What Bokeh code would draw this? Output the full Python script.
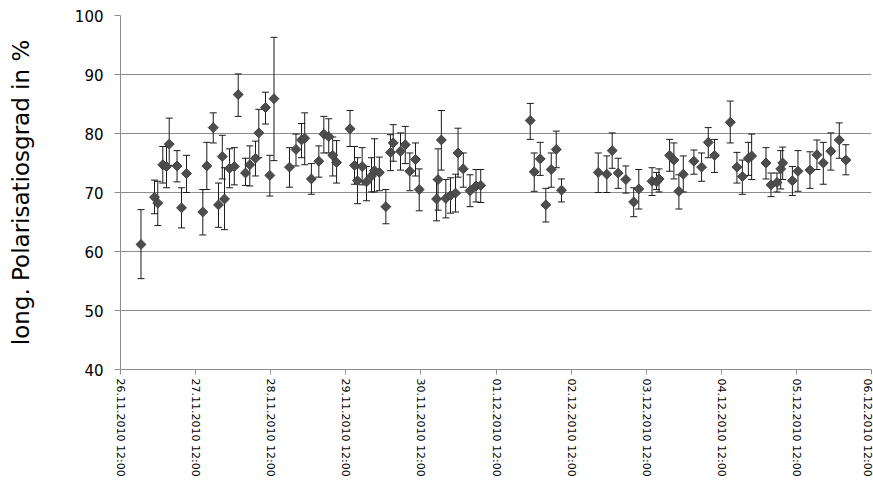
import numpy as np
import pandas as pd
from bokeh.plotting import figure
from bokeh.models import (ColumnDataSource, Whisker, TeeHead, Range1d, FixedTicker,
                          DatetimeTickFormatter)
from bokeh.embed import file_html
from bokeh.resources import INLINE

# measurement times
times = [
    "2010-11-26 18:33", "2010-11-26 22:52", "2010-11-26 23:55", "2010-11-27 01:31", "2010-11-27 02:42",
    "2010-11-27 03:34", "2010-11-27 06:04", "2010-11-27 07:30", "2010-11-27 09:06", "2010-11-27 14:18",
    "2010-11-27 15:35", "2010-11-27 17:38", "2010-11-27 19:19", "2010-11-27 20:32", "2010-11-27 21:14",
    "2010-11-27 22:50", "2010-11-28 00:22", "2010-11-28 01:37", "2010-11-28 03:57", "2010-11-28 05:19",
    "2010-11-28 07:08", "2010-11-28 08:12", "2010-11-28 10:20", "2010-11-28 11:43", "2010-11-28 13:03",
    "2010-11-28 18:00", "2010-11-28 20:05", "2010-11-28 21:51", "2010-11-28 22:52", "2010-11-29 01:00",
    "2010-11-29 03:23", "2010-11-29 04:59", "2010-11-29 06:33", "2010-11-29 07:49", "2010-11-29 09:03",
    "2010-11-29 13:21", "2010-11-29 14:47", "2010-11-29 15:44", "2010-11-29 17:14", "2010-11-29 18:37",
    "2010-11-29 20:13", "2010-11-29 21:10", "2010-11-29 22:43", "2010-11-30 00:48", "2010-11-30 02:17",
    "2010-11-30 03:09", "2010-11-30 05:29", "2010-11-30 07:00", "2010-11-30 08:28", "2010-11-30 10:17",
    "2010-11-30 11:28", "2010-11-30 17:00", "2010-11-30 17:29", "2010-11-30 18:32", "2010-11-30 19:58",
    "2010-11-30 21:28", "2010-11-30 23:04", "2010-11-30 23:52", "2010-12-01 01:33", "2010-12-01 03:42",
    "2010-12-01 05:37", "2010-12-01 07:07", "2010-12-01 22:57", "2010-12-02 00:13", "2010-12-02 02:08",
    "2010-12-02 03:55", "2010-12-02 05:39", "2010-12-02 07:15", "2010-12-02 08:56", "2010-12-02 20:40",
    "2010-12-02 23:25", "2010-12-03 01:08", "2010-12-03 03:03", "2010-12-03 05:30", "2010-12-03 08:00",
    "2010-12-03 09:38", "2010-12-03 13:52", "2010-12-03 15:18", "2010-12-03 16:06", "2010-12-03 19:28",
    "2010-12-03 20:51", "2010-12-03 22:27", "2010-12-03 23:51", "2010-12-04 03:15", "2010-12-04 05:42",
    "2010-12-04 07:50", "2010-12-04 09:51", "2010-12-04 14:52", "2010-12-04 17:00", "2010-12-04 18:44",
    "2010-12-04 20:39", "2010-12-04 21:42", "2010-12-05 02:17", "2010-12-05 03:53", "2010-12-05 05:48",
    "2010-12-05 06:59", "2010-12-05 07:37", "2010-12-05 10:43", "2010-12-05 12:30", "2010-12-05 16:20",
    "2010-12-05 18:34", "2010-12-05 20:36", "2010-12-05 23:01", "2010-12-06 01:42", "2010-12-06 03:49",
]

# long. Polarisationsgrad in %
values = [
    61.2, 69.2, 68.2, 74.7, 74.4, 78.2, 74.5, 67.4, 73.2, 66.7,
    74.5, 81.0, 67.9, 76.1, 68.9, 74.1, 74.4, 86.6, 73.3, 74.7,
    75.8, 80.1, 84.4, 72.9, 85.9, 74.3, 77.3, 78.9, 79.2, 72.3,
    75.3, 79.9, 79.5, 76.3, 75.1, 80.8, 74.6, 72.0, 74.4, 71.8,
    72.8, 73.7, 73.4, 67.6, 76.8, 78.4, 77.0, 78.1, 73.6, 75.6,
    70.5, 68.9, 72.2, 78.9, 69.0, 69.5, 69.9, 76.7, 74.0, 70.3,
    71.1, 71.2, 82.2, 73.5, 75.7, 67.9, 73.9, 77.3, 70.4, 73.4,
    73.1, 77.1, 73.3, 72.2, 68.4, 70.6, 71.9, 71.8, 72.3, 76.3,
    75.5, 70.2, 73.1, 75.3, 74.3, 78.5, 76.3, 81.9, 74.3, 72.7,
    75.8, 76.2, 75.0, 71.3, 71.7, 74.0, 75.0, 72.0, 73.6, 73.8,
    76.4, 75.0, 77.0, 78.9, 75.5,
]

# upper end of error bar
upper = [
    67.1, 72.1, 71.9, 77.8, 77.8, 82.6, 77.1, 70.8, 76.3, 70.5,
    78.5, 83.5, 71.6, 79.7, 74.2, 77.4, 77.6, 90.1, 75.8, 77.9,
    78.7, 84.1, 87.0, 76.3, 96.3, 77.6, 79.9, 81.7, 83.5, 74.9,
    77.9, 82.9, 82.5, 79.4, 78.8, 83.9, 77.8, 75.9, 77.6, 74.4,
    75.9, 79.1, 76.0, 70.5, 79.8, 81.5, 80.1, 81.2, 76.7, 78.4,
    74.0, 72.2, 77.4, 83.9, 72.2, 72.5, 73.1, 80.9, 76.7, 73.0,
    73.9, 73.9, 85.1, 76.7, 78.5, 70.7, 76.7, 80.4, 72.3, 76.7,
    76.2, 80.1, 75.8, 74.5, 70.8, 73.9, 74.2, 73.4, 74.0, 79.0,
    78.4, 73.0, 76.2, 77.2, 76.7, 81.0, 79.0, 85.5, 76.8, 75.5,
    78.5, 79.9, 77.6, 73.3, 73.3, 77.1, 77.7, 74.4, 77.1, 76.9,
    78.9, 78.5, 80.1, 81.8, 78.1,
]

# lower end of error bar
lower = [
    55.4, 66.4, 64.4, 71.6, 70.8, 74.6, 71.8, 64.0, 70.0, 62.8,
    70.5, 78.4, 64.1, 72.3, 63.7, 70.8, 71.3, 82.9, 71.2, 71.1,
    72.8, 75.9, 81.6, 69.4, 75.4, 70.9, 74.5, 75.9, 74.7, 69.7,
    72.6, 76.7, 76.7, 72.8, 71.6, 77.8, 71.4, 68.1, 71.3, 68.6,
    70.1, 70.1, 70.3, 64.7, 73.7, 75.3, 73.8, 74.9, 70.3, 72.8,
    66.9, 65.2, 67.0, 73.8, 65.7, 66.5, 66.7, 72.6, 70.9, 67.6,
    68.4, 68.3, 79.0, 70.2, 72.9, 65.0, 70.9, 74.2, 68.4, 70.0,
    70.0, 74.1, 70.7, 69.9, 65.9, 67.2, 69.5, 70.5, 70.1, 73.6,
    72.3, 67.2, 70.1, 73.1, 71.9, 75.9, 73.4, 78.4, 71.6, 69.7,
    72.9, 72.2, 72.3, 69.3, 70.1, 70.6, 72.2, 69.5, 70.2, 70.7,
    73.9, 71.4, 73.8, 75.8, 73.0,
]

tick_days = ["2010-11-26", "2010-11-27", "2010-11-28", "2010-11-29", "2010-11-30", "2010-12-01",
             "2010-12-02", "2010-12-03", "2010-12-04", "2010-12-05", "2010-12-06"]
y_ticks = [40, 50, 60, 70, 80, 90, 100]

x = pd.to_datetime(times)
source = ColumnDataSource(dict(x=x, y=values, upper=upper, lower=lower))

tick_ts = [pd.Timestamp(d + " 12:00") for d in tick_days]
tick_ms = [t.value / 1e6 for t in tick_ts]

p = figure(width=873, height=481, x_axis_type="datetime", output_backend="svg",
           toolbar_location=None, min_border_left=120, min_border_right=2,
           min_border_top=15, min_border_bottom=112)
p.x_range = Range1d(tick_ts[0], tick_ts[-1])
p.y_range = Range1d(40, 100)
p.outline_line_color = None
p.background_fill_color = "white"
p.border_fill_color = "white"

grid_col = "#8c8c8c"
p.xgrid.visible = False
p.ygrid.grid_line_color = grid_col
p.ygrid.grid_line_width = 1

p.xaxis.ticker = FixedTicker(ticks=tick_ms)
fmt = "%d.%m.%Y %H:%M"
p.xaxis.formatter = DatetimeTickFormatter(milliseconds=fmt, seconds=fmt, minsec=fmt, minutes=fmt,
                                          hourmin=fmt, hours=fmt, days=fmt, months=fmt, years=fmt)
p.xaxis.major_label_orientation = "vertical"
p.xaxis.major_label_text_font = "DejaVu Sans"
p.xaxis.major_label_text_font_size = "11px"
p.xaxis.major_label_text_color = "#000000"
p.xaxis.major_label_standoff = 4
p.xaxis.major_tick_out = 5
p.xaxis.major_tick_in = 0
p.xaxis.minor_tick_line_color = None
p.xaxis.axis_line_color = grid_col
p.xaxis.major_tick_line_color = grid_col

p.yaxis.ticker = FixedTicker(ticks=y_ticks)
p.yaxis.major_label_text_font = "DejaVu Sans"
p.yaxis.major_label_text_font_size = "15px"
p.yaxis.major_label_text_color = "#000000"
p.yaxis.major_label_standoff = 11
p.yaxis.major_tick_out = 6
p.yaxis.major_tick_in = 0
p.yaxis.minor_tick_line_color = None
p.yaxis.axis_line_color = grid_col
p.yaxis.major_tick_line_color = grid_col
p.yaxis.axis_label = "long. Polarisatiosgrad in %"
p.yaxis.axis_label_text_font = "DejaVu Sans"
p.yaxis.axis_label_text_font_size = "23px"
p.yaxis.axis_label_text_font_style = "normal"
p.yaxis.axis_label_text_color = "#000000"
p.yaxis.axis_label_standoff = 38

w = Whisker(base="x", upper="upper", lower="lower", source=source, dimension="height",
            line_color="#1a1a1a", line_width=1,
            upper_head=TeeHead(size=7, line_color="#1a1a1a", line_width=1),
            lower_head=TeeHead(size=7, line_color="#1a1a1a", line_width=1))
p.add_layout(w)

p.scatter("x", "y", source=source, marker="square", angle=np.pi / 4, size=7,
          fill_color="#4d4d4d", line_color="#404040", line_width=1)

open("out.html", "w").write(file_html(p, INLINE))
